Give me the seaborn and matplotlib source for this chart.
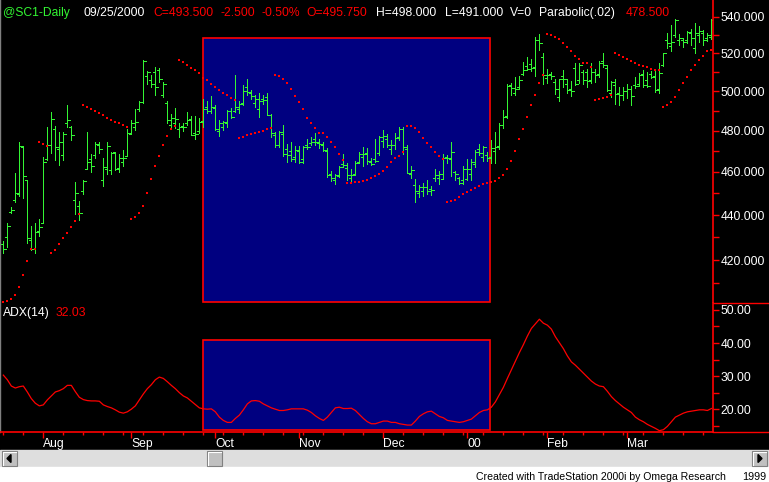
import numpy as np
import seaborn as sns
import matplotlib.pyplot as plt
from matplotlib.patches import Rectangle, Polygon
from matplotlib.lines import Line2D
from matplotlib.ticker import FixedLocator, NullFormatter

# daily bars (bar index 0 .. 177)
highs = [428.5, 436.2, 443.7, 459.3, 474.3, 472.6, 456.2, 435.0, 436.6, 438.0,
         467.1, 481.7, 489.4, 482.2, 479.4, 479.4, 492.9, 482.2, 455.3, 446.3,
         456.2, 479.4, 468.6, 474.4, 474.4, 466.5, 474.4, 469.8, 469.5, 468.4,
         470.5, 481.1, 485.3, 491.1, 495.2, 516.4, 510.6, 508.3, 512.5, 512.3,
         504.6, 495.0, 488.5, 491.4, 483.7, 483.7, 489.4, 487.3, 487.3, 486.3,
         496.0, 495.2, 497.5, 492.9, 485.3, 485.0, 490.4, 491.4, 508.5, 495.2,
         503.1, 506.3, 500.6, 498.2, 498.9, 497.9, 498.9, 488.3, 479.4, 479.7,
         482.9, 473.5, 474.4, 472.5, 472.5, 472.5, 475.7, 476.7, 478.8, 475.7,
         474.7, 471.5, 460.3, 459.0, 462.8, 468.6, 464.1, 461.5, 465.4, 469.5,
         471.8, 471.5, 466.6, 476.1, 477.5, 480.4, 478.4, 475.4, 478.8, 481.7,
         481.7, 472.9, 462.8, 456.5, 454.0, 454.6, 456.2, 453.4, 461.2, 460.3,
         468.6, 468.2, 474.7, 460.3, 457.8, 462.8, 466.0, 466.0, 470.5, 473.5,
         472.5, 469.5, 475.4, 479.4, 484.0, 490.4, 503.8, 504.5, 507.6, 507.9,
         515.4, 517.8, 517.1, 529.0, 530.4, 519.9, 511.8, 510.0, 506.2, 506.5,
         511.1, 506.2, 505.1, 515.0, 515.0, 511.1, 511.5, 515.0, 511.5, 516.1,
         520.3, 514.0, 505.1, 506.2, 502.1, 502.4, 503.5, 502.7, 507.3, 509.6,
         511.1, 510.0, 510.7, 510.7, 514.7, 520.3, 531.2, 535.2, 538.8, 530.4,
         528.3, 531.9, 533.3, 536.3, 534.8, 532.6, 530.8, 538.5]
lows = [422.9, 425.8, 441.0, 446.0, 448.8, 447.9, 427.6, 424.3, 422.9, 430.7,
        436.2, 465.7, 468.9, 465.7, 463.5, 465.7, 481.9, 475.4, 440.7, 437.7,
        449.5, 461.2, 460.1, 466.9, 469.2, 453.5, 459.0, 459.0, 460.9, 460.1,
        463.0, 467.8, 478.3, 480.4, 490.1, 494.1, 503.6, 502.1, 498.2, 505.0,
        496.9, 484.0, 481.4, 481.4, 477.1, 480.1, 482.9, 477.8, 475.9, 478.8,
        481.7, 488.8, 489.1, 480.4, 477.5, 480.4, 481.9, 486.6, 489.6, 488.8,
        492.8, 498.2, 496.2, 491.7, 487.0, 493.7, 487.7, 477.1, 472.1, 471.8,
        467.9, 464.9, 465.1, 464.6, 464.4, 464.4, 471.1, 472.9, 472.9, 471.5,
        470.2, 457.5, 455.6, 454.3, 457.5, 462.5, 456.2, 455.9, 458.4, 464.4,
        462.8, 463.8, 463.1, 464.7, 468.2, 471.8, 471.8, 468.6, 471.1, 475.4,
        468.6, 459.3, 457.2, 445.9, 448.1, 448.7, 449.7, 449.3, 455.9, 454.3,
        456.9, 464.1, 458.1, 456.2, 454.3, 454.3, 456.2, 456.2, 462.5, 468.2,
        465.4, 465.1, 464.1, 464.4, 471.1, 481.4, 486.6, 498.2, 497.9, 501.3,
        508.3, 510.9, 510.6, 507.9, 521.7, 503.8, 504.2, 506.2, 498.5, 495.2,
        502.4, 498.9, 497.5, 503.1, 504.5, 503.8, 502.1, 504.5, 504.8, 507.6,
        512.5, 500.0, 496.9, 493.7, 492.8, 495.5, 496.5, 492.8, 501.7, 502.7,
        502.1, 502.1, 506.9, 499.6, 499.3, 513.3, 522.8, 521.4, 529.0, 524.7,
        523.6, 525.8, 524.3, 520.3, 526.1, 524.7, 526.8, 527.6]
opens = [427.0, 430.0, 441.5, 447.0, 449.5, 472.0, 456.0, 429.0, 425.0, 433.0,
         436.5, 466.0, 473.0, 481.0, 471.0, 468.0, 484.0, 482.0, 447.0, 444.0,
         451.0, 461.5, 466.0, 468.2, 473.0, 456.0, 461.2, 461.0, 469.4, 462.0,
         465.0, 467.8, 478.5, 482.0, 491.0, 494.5, 508.0, 506.0, 510.0, 511.0,
         498.0, 494.0, 483.0, 484.0, 481.0, 482.5, 484.0, 486.0, 479.0, 480.0,
         485.0, 492.0, 490.0, 491.2, 480.0, 482.0, 484.0, 490.0, 490.0, 491.0,
         494.0, 502.0, 499.0, 494.0, 491.0, 496.0, 497.0, 488.0, 478.0, 473.0,
         478.2, 471.0, 470.0, 467.0, 470.0, 466.0, 473.0, 474.0, 476.0, 474.0,
         473.0, 470.0, 459.0, 456.0, 458.0, 464.0, 462.0, 457.0, 459.0, 465.0,
         467.0, 469.0, 465.0, 466.0, 469.0, 475.0, 476.0, 471.0, 473.0, 477.0,
         481.1, 471.0, 459.0, 454.0, 450.0, 451.0, 453.0, 452.0, 457.0, 457.0,
         456.9, 467.0, 466.0, 460.0, 457.2, 456.0, 456.5, 459.0, 464.0, 471.0,
         467.0, 468.0, 467.0, 470.0, 472.5, 483.0, 487.3, 503.0, 499.0, 502.0,
         509.0, 513.0, 514.4, 512.8, 527.0, 518.0, 507.0, 509.0, 505.0, 497.0,
         508.0, 504.0, 501.0, 512.0, 506.0, 510.0, 510.0, 506.0, 510.0, 509.0,
         516.0, 512.0, 499.0, 503.0, 499.0, 498.0, 500.0, 501.0, 503.0, 504.0,
         509.0, 506.0, 509.0, 508.0, 501.0, 514.0, 527.0, 524.0, 530.0, 527.0,
         527.0, 527.0, 531.0, 523.0, 530.0, 531.0, 528.0, 529.0]
closes = [425.0, 435.0, 442.5, 450.2, 472.3, 458.0, 429.5, 425.0, 432.5, 434.7,
          464.7, 472.9, 486.1, 471.8, 474.6, 478.5, 485.6, 477.8, 449.9, 441.1,
          455.7, 464.6, 462.7, 473.5, 471.1, 462.2, 472.5, 469.3, 461.4, 466.9,
          466.9, 479.0, 484.0, 484.3, 494.5, 516.1, 510.0, 503.5, 502.1, 506.2,
          504.0, 485.6, 486.6, 486.1, 482.0, 481.7, 485.6, 478.0, 478.4, 484.5,
          490.7, 490.1, 492.1, 481.1, 483.7, 484.2, 489.9, 487.0, 491.7, 493.7,
          500.3, 499.6, 497.5, 496.2, 495.0, 495.5, 488.0, 479.0, 472.9, 479.4,
          468.6, 468.2, 466.0, 470.5, 465.0, 471.8, 472.1, 474.4, 474.4, 473.5,
          470.5, 458.4, 457.2, 458.4, 462.5, 463.5, 458.7, 458.4, 464.4, 468.6,
          468.6, 465.4, 463.8, 465.1, 476.7, 477.5, 473.2, 473.2, 476.4, 480.7,
          472.1, 459.6, 461.0, 451.2, 453.1, 452.7, 451.2, 451.5, 458.7, 459.0,
          466.5, 466.9, 469.8, 459.0, 455.0, 461.5, 461.5, 464.7, 469.5, 469.2,
          471.8, 466.9, 471.5, 472.1, 483.0, 487.0, 502.7, 501.7, 501.3, 505.8,
          511.1, 511.8, 512.0, 527.2, 525.5, 508.5, 508.5, 507.9, 501.3, 506.2,
          506.5, 500.6, 500.3, 503.8, 513.6, 505.8, 505.1, 510.0, 508.3, 514.7,
          513.6, 500.6, 504.8, 498.5, 497.9, 500.3, 501.3, 497.5, 502.7, 508.3,
          503.1, 502.7, 507.6, 500.6, 509.6, 519.9, 525.4, 526.1, 538.1, 528.3,
          526.1, 531.5, 528.3, 531.2, 531.9, 527.2, 530.1, 538.1]

# Parabolic(.02) stop values, one per bar
sar = [402.3, 402.6, 403.4, 405.0, 408.3, 413.4, 419.4, 425.0, 425.0, 474.3,
       473.3, 472.3, 422.9, 424.3, 426.9, 429.6, 431.7, 434.4, 437.5, 440.7,
       492.8, 491.7, 490.7, 489.8, 488.8, 487.7, 486.6, 485.6, 484.6, 483.7,
       482.7, 481.7, 438.0, 438.9, 441.1, 444.3, 449.9, 456.5, 462.7, 467.8,
       472.9, 477.3, 480.7, 482.2, 516.2, 515.2, 513.6, 512.1, 510.9, 509.3,
       507.1, 505.6, 503.6, 502.1, 500.5, 498.9, 497.9, 496.4, 495.3, 476.2,
       476.7, 477.8, 478.3, 478.8, 479.2, 479.7, 480.7, 481.2, 508.3, 507.8,
       506.2, 504.1, 501.0, 497.4, 494.3, 490.7, 486.6, 483.7, 481.2, 478.8,
       478.8, 476.7, 474.7, 471.8, 468.4, 465.6, 454.6, 454.6, 455.1, 455.1,
       455.6, 456.0, 457.0, 457.9, 458.9, 460.3, 462.2, 464.6, 466.5, 467.9,
       469.8, 482.2, 482.2, 481.2, 479.2, 476.2, 473.8, 471.8, 469.8, 467.9,
       466.0, 446.1, 446.6, 447.1, 448.5, 449.5, 450.4, 451.3, 452.3, 453.2,
       454.3, 454.9, 455.4, 455.9, 457.3, 458.7, 461.5, 465.4, 470.2, 475.7,
       481.1, 487.0, 493.0, 498.2, 504.1, 508.3, 530.4, 529.7, 528.6, 527.6,
       525.4, 523.2, 521.0, 518.8, 516.7, 515.0, 514.7, 512.5, 495.5, 495.9,
       496.4, 496.9, 498.2, 519.9, 519.2, 518.1, 517.1, 516.1, 515.0, 514.0,
       513.3, 512.5, 511.8, 511.1, 511.1, 492.1, 492.8, 494.5, 496.9, 500.6,
       504.1, 507.6, 511.1, 513.6, 516.4, 518.5, 521.0, 522.0]

# ADX(14)
adx = [30.3, 28.9, 27.0, 26.4, 26.8, 27.0, 25.2, 23.2, 21.8, 21.0,
       21.3, 22.8, 24.0, 25.2, 25.6, 26.2, 27.2, 27.2, 25.3, 23.6,
       22.9, 22.6, 22.5, 22.5, 22.4, 21.3, 20.8, 20.4, 19.8, 19.1,
       18.8, 19.2, 20.0, 21.0, 22.8, 24.6, 26.2, 27.4, 28.9, 29.7,
       29.3, 28.3, 27.2, 26.2, 25.0, 24.0, 23.4, 22.4, 21.4, 20.4,
       20.1, 20.0, 20.1, 19.2, 17.6, 16.6, 16.0, 16.0, 17.2, 18.2,
       19.8, 21.6, 22.5, 22.6, 22.4, 21.6, 21.0, 20.4, 20.0, 19.6,
       19.6, 19.8, 20.1, 20.1, 20.1, 20.1, 19.7, 19.0, 18.0, 17.2,
       16.6, 17.6, 19.0, 20.4, 20.6, 20.2, 20.2, 20.3, 19.6, 18.4,
       17.2, 16.2, 15.6, 15.6, 16.0, 16.4, 16.4, 16.0, 16.0, 15.6,
       15.4, 15.2, 15.2, 16.4, 17.8, 18.6, 19.2, 19.4, 18.6, 17.8,
       17.4, 16.6, 16.4, 16.2, 16.0, 16.2, 16.6, 17.0, 18.0, 19.0,
       19.6, 19.8, 20.6, 22.2, 24.4, 26.6, 29.3, 31.9, 34.5, 37.1,
       39.5, 42.1, 44.4, 45.8, 47.2, 46.0, 45.4, 44.2, 41.9, 40.1,
       38.3, 36.1, 34.3, 33.3, 32.1, 30.9, 29.7, 28.5, 27.6, 27.0,
       26.8, 25.4, 23.8, 22.6, 21.6, 20.6, 19.8, 19.0, 17.6, 16.8,
       16.2, 15.4, 14.8, 14.2, 13.5, 13.8, 14.8, 16.2, 17.6, 18.2,
       18.8, 19.2, 19.4, 19.6, 19.8, 19.8, 19.6, 20.2]

month_pos = [10, 32, 53, 74, 95, 116, 136, 156]
month_labels = ['Aug', 'Sep', 'Oct', 'Nov', 'Dec', '00', 'Feb', 'Mar']
price_ticks = [420, 440, 460, 480, 500, 520, 540]
price_minor = [410, 430, 450, 470, 490, 510, 530]
adx_ticks = [20, 30, 40, 50]
adx_minor = [15, 25, 35, 45]

# highlighted stretch (bar index range) and its box heights
shade_x = (49.9, 121.7)
shade_price = (402.2, 528.2)
shade_adx = (13.7, 40.9)

GREEN = '#33f533'
RED = '#ff0000'
NAVY = '#000080'
FONT = 8.7
W, H = 769, 482

idx = np.arange(len(highs))

fig = plt.figure(figsize=(W / 100, H / 100), dpi=100, facecolor='black')
plt.rcParams['font.family'] = ['Liberation Sans', 'DejaVu Sans']

# background: black chart, scroll bar, white status strip
bg = fig.add_axes([0, 0, 1, 1])
bg.set_xlim(0, W)
bg.set_ylim(H, 0)
bg.axis('off')
bg.set_zorder(0)
bg.add_patch(Rectangle((0, 0), W, H, color='black'))
bg.add_patch(Rectangle((0, 450), W, 17, color='#dedede'))
bg.add_patch(Rectangle((0, 467), W, 15, color='white'))
for bx in (2, 207, 752):
    bg.add_patch(Rectangle((bx, 451), 15, 15, facecolor='#c0c0c0', edgecolor='#808080', lw=0.8))
    bg.add_line(Line2D([bx + 1, bx + 1, bx + 14], [465, 452, 452], color='white', lw=0.8))
bg.add_patch(Polygon([(7, 458.5), (11, 454.5), (11, 462.5)], color='black'))
bg.add_patch(Polygon([(762, 458.5), (758, 454.5), (758, 462.5)], color='black'))
bg.add_line(Line2D([713, W], [303, 303], color=RED, lw=1))
bg.add_line(Line2D([713, W], [432, 432], color=RED, lw=1))

ax_p = fig.add_axes([0, (H - 303) / H, 713 / W, 303 / H], facecolor='black')
ax_a = fig.add_axes([0, (H - 432) / H, 713 / W, 129 / H], facecolor='black')

# price panel
ax_p.add_patch(Rectangle((shade_x[0], shade_price[0]), shade_x[1] - shade_x[0],
                         shade_price[1] - shade_price[0], facecolor=NAVY,
                         edgecolor=RED, lw=1.2, zorder=0))
bar_style = dict(color=GREEN, lw=0.6, antialiased=False, zorder=2)
ax_p.vlines(idx, lows, highs, **bar_style)
ax_p.hlines(opens, idx - 0.6, idx, **bar_style)
ax_p.hlines(closes, idx, idx + 0.6, **bar_style)
sns.scatterplot(x=idx, y=sar, ax=ax_p, marker='s', s=4.5, color=RED,
                linewidth=0, zorder=3)
ax_p.set_yscale('log')
ax_p.set_ylim(401.8, 549.4)
ax_p.set_xlim(-0.83, 177.4)
ax_p.yaxis.tick_right()
ax_p.yaxis.set_major_locator(FixedLocator(price_ticks))
ax_p.yaxis.set_minor_locator(FixedLocator(price_minor))
ax_p.yaxis.set_minor_formatter(NullFormatter())
ax_p.set_yticklabels([f'{v:.3f}' for v in price_ticks])
ax_p.set_xticks([])
ax_p.set_xlabel('')
ax_p.set_ylabel('')

# ADX panel
ax_a.add_patch(Rectangle((shade_x[0], shade_adx[0]), shade_x[1] - shade_x[0],
                         shade_adx[1] - shade_adx[0], facecolor=NAVY,
                         edgecolor=RED, lw=1.2, zorder=0))
sns.lineplot(x=idx, y=adx, ax=ax_a, color=RED, linewidth=0.9, zorder=2)
ax_a.set_ylim(13.1, 52.1)
ax_a.set_xlim(-0.83, 177.4)
ax_a.yaxis.tick_right()
ax_a.yaxis.set_major_locator(FixedLocator(adx_ticks))
ax_a.yaxis.set_minor_locator(FixedLocator(adx_minor))
ax_a.yaxis.set_minor_formatter(NullFormatter())
ax_a.set_yticklabels([f'{v:.2f}' for v in adx_ticks])
ax_a.set_xticks(month_pos)
ax_a.set_xticklabels(month_labels)
ax_a.xaxis.set_minor_locator(FixedLocator(list(range(0, 178, 5))))
for lab in ax_a.get_xticklabels():
    lab.set_horizontalalignment('left')
ax_a.set_xlabel('')
ax_a.set_ylabel('')

for ax in (ax_p, ax_a):
    ax.set_zorder(1)
    for side in ('top', 'bottom'):
        ax.spines[side].set_visible(False)
    ax.spines['right'].set_color(RED)
    ax.spines['right'].set_linewidth(1.2)
    ax.spines['left'].set_color('#808080')
    ax.spines['left'].set_linewidth(1)
    ax.tick_params(axis='y', which='both', colors=RED, labelcolor='white',
                   length=4, width=1, pad=1.5, labelsize=FONT)
ax_a.spines['bottom'].set_visible(True)
ax_a.spines['bottom'].set_color(RED)
ax_a.spines['bottom'].set_linewidth(1.2)
ax_a.tick_params(axis='x', which='major', colors=RED, labelcolor='white',
                 length=4, width=1, pad=0.5, labelsize=FONT)
ax_a.tick_params(axis='x', which='minor', colors=RED, length=2.2, width=1)

# header line and panel titles
def px_text(x, y, s, color, size=FONT):
    fig.text(x / W, 1 - y / H, s, color=color, fontsize=size, va='baseline', ha='left')

header = [(3, '@SC1-Daily', GREEN), (84, '09/25/2000', 'white'),
          (153, 'C=493.500', RED), (220, '-2.500', RED), (262, '-0.50%', RED),
          (306, 'O=495.750', RED), (376, 'H=498.000', 'white'),
          (445, 'L=491.000', 'white'), (510, 'V=0', 'white'),
          (539, 'Parabolic(.02)', 'white'), (626, '478.500', RED)]
for x, s, c in header:
    px_text(x, 16, s, c)
px_text(3, 316, 'ADX(14)', 'white')
px_text(56, 316, '32.03', RED)
px_text(476, 479.5, 'Created with TradeStation 2000i by Omega Research', 'black', 7.6)
px_text(742, 479.5, '1999', 'black', 7.8)

fig.savefig('out.png', dpi=100, facecolor='black')
